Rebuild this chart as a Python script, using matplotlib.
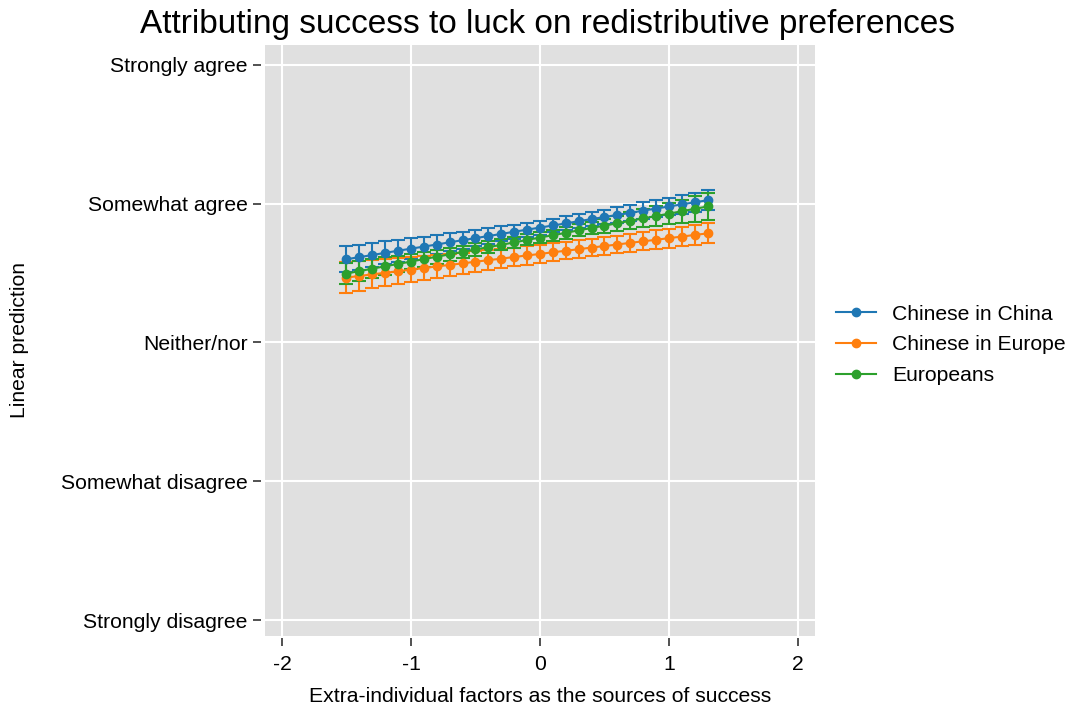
import numpy as np
import matplotlib.pyplot as plt
from matplotlib.lines import Line2D

plt.rcParams["font.family"] = ["Liberation Sans", "DejaVu Sans"]

# ── data ───────────────────────────────────────────────────────────────────
x_vals = [-1.5, -1.4, -1.3, -1.2, -1.1, -1.0, -0.9, -0.8, -0.7, -0.6,
          -0.5, -0.4, -0.3, -0.2, -0.1, 0.0, 0.1, 0.2, 0.3, 0.4,
          0.5, 0.6, 0.7, 0.8, 0.9, 1.0, 1.1, 1.2, 1.3]

china_mean = [3.600, 3.615, 3.630, 3.646, 3.661, 3.676, 3.691, 3.706, 3.722, 3.737,
              3.752, 3.767, 3.782, 3.798, 3.813, 3.828, 3.843, 3.858, 3.874, 3.889,
              3.904, 3.919, 3.934, 3.950, 3.965, 3.980, 3.995, 4.010, 4.025]
china_err = [0.095, 0.091, 0.087, 0.083, 0.079, 0.075, 0.071, 0.068, 0.064, 0.061,
             0.058, 0.056, 0.054, 0.052, 0.051, 0.050, 0.050, 0.050, 0.051, 0.052,
             0.053, 0.055, 0.057, 0.059, 0.061, 0.064, 0.066, 0.069, 0.072]

ch_eu_mean = [3.468, 3.479, 3.491, 3.502, 3.513, 3.525, 3.536, 3.548, 3.559, 3.570,
              3.582, 3.593, 3.604, 3.616, 3.627, 3.638, 3.650, 3.661, 3.672, 3.684,
              3.695, 3.706, 3.718, 3.729, 3.740, 3.752, 3.763, 3.775, 3.786]
ch_eu_err = [0.110, 0.106, 0.102, 0.098, 0.094, 0.090, 0.087, 0.084, 0.081, 0.078,
             0.075, 0.073, 0.070, 0.068, 0.067, 0.065, 0.064, 0.063, 0.063, 0.063,
             0.063, 0.064, 0.065, 0.066, 0.067, 0.068, 0.069, 0.071, 0.072]

euro_mean = [3.497, 3.514, 3.532, 3.549, 3.566, 3.583, 3.601, 3.618, 3.635, 3.652,
             3.670, 3.687, 3.704, 3.721, 3.739, 3.756, 3.773, 3.790, 3.808, 3.825,
             3.842, 3.859, 3.877, 3.894, 3.911, 3.928, 3.946, 3.963, 3.980]
euro_err = [0.076, 0.072, 0.068, 0.064, 0.060, 0.057, 0.054, 0.051, 0.048, 0.046,
            0.044, 0.042, 0.041, 0.040, 0.040, 0.040, 0.041, 0.042, 0.044, 0.046,
            0.050, 0.055, 0.060, 0.065, 0.071, 0.077, 0.084, 0.092, 0.100]

series_names = ["Chinese in China", "Chinese in Europe", "Europeans"]
series_colors = ["#1f77b4", "#ff7f0e", "#2ca02c"]

y_ticks = [1, 2, 3, 4, 5]
y_labels = ["Strongly disagree", "Somewhat disagree", "Neither/nor",
            "Somewhat agree", "Strongly agree"]
x_ticks = [-2, -1, 0, 1, 2]

# ── figure ─────────────────────────────────────────────────────────────────
fig = plt.figure(figsize=(10.71, 7.09), dpi=100)
fig.patch.set_facecolor("white")
ax = fig.add_axes([0.2474, 0.1030, 0.5135, 0.8336])
ax.set_facecolor("#e0e0e0")

means = [china_mean, ch_eu_mean, euro_mean]
errs = [china_err, ch_eu_err, euro_err]
for name, col, m, e in zip(series_names, series_colors, means, errs):
    ax.errorbar(x_vals, m, yerr=e, color=col, ecolor=col,
                marker="o", markersize=6.0, linewidth=1.5,
                elinewidth=1.5, capsize=5.2, capthick=1.5,
                zorder=3)

ax.set_xlim(-2.132, 2.132)
ax.set_ylim(0.885, 5.144)
ax.set_xticks(x_ticks)
ax.set_xticklabels([str(t) for t in x_ticks])
ax.set_yticks(y_ticks)
ax.set_yticklabels(y_labels)

ax.grid(True, color="white", linewidth=1.5, zorder=0)
ax.set_axisbelow(True)

for side in ["top", "right"]:
    ax.spines[side].set_visible(False)
ax.spines["left"].set_position(("outward", 3))
ax.spines["bottom"].set_position(("outward", 1.5))
ax.spines["left"].set_color("none")
ax.spines["bottom"].set_color("none")

ax.tick_params(axis="both", direction="out", length=5.5, width=1.2,
               color="#333333", labelsize=15.2, labelcolor="black")
ax.tick_params(axis="y", pad=4)
ax.tick_params(axis="x", pad=7)

ax.set_xlabel("Extra-individual factors as the sources of success",
              fontsize=15.2, labelpad=9)
fig.text(20 / 1071, 1 - 340 / 709, "Linear prediction", rotation=90,
         ha="center", va="center", fontsize=15.2)

fig.text(547 / 1071, 1 - 24 / 709,
         "Attributing success to luck on redistributive preferences",
         ha="center", va="center", fontsize=24)

handles = [Line2D([], [], color=c, marker="o", markersize=6.0, linewidth=1.5)
           for c in series_colors]
ax.legend(handles, series_names, loc="center left",
          bbox_to_anchor=(836 / 1071, 1 - 345 / 709),
          bbox_transform=fig.transFigure, borderpad=0, borderaxespad=0,
          frameon=False, fontsize=15.2, handlelength=1.9,
          handletextpad=0.75, labelspacing=0.55)

fig.savefig("out.png", dpi=100, facecolor="white")
